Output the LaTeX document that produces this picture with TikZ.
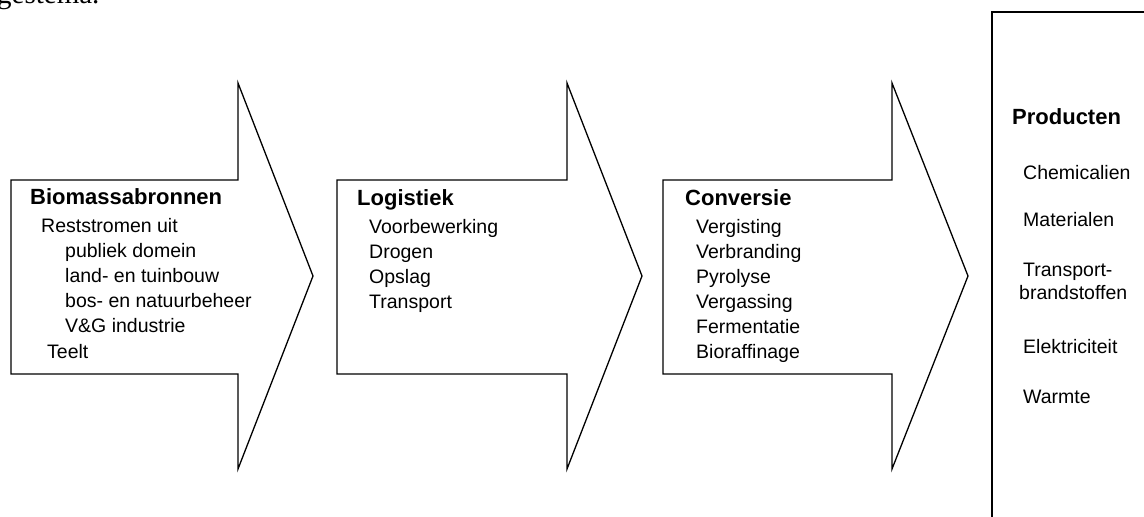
\documentclass[tikz,border=0pt]{standalone}
\usepackage{fontspec}
\setmainfont{Liberation Sans}
\newfontfamily\captionserif{Liberation Serif}
\begin{document}
\begin{tikzpicture}[x=1pt,y=-1pt,
  arrowshape/.style={draw=black, line width=1.3pt, fill=white, line join=miter},
  boxline/.style={draw=black, line width=1.3pt},
  titletext/.style={anchor=base west, inner sep=0pt, font=\fontsize{22}{26}\selectfont\bfseries},
  itemtext/.style={anchor=base west, inner sep=0pt, font=\fontsize{19.5}{23}\selectfont},
  captiontext/.style={anchor=base west, inner sep=0pt, font=\captionserif\fontsize{29}{33}\selectfont}]
\useasboundingbox (0,0) rectangle (1144,517);
\clip (0,0) rectangle (1144,517);
\fill[white] (0,0) rectangle (1144,517);

% partial caption line at the top
\node[captiontext] (cap) at (-3,3) {gestema.};

% arrow 1
\draw[arrowshape] (11,180) -- (238,180) -- (238,83) -- (313,276) -- (238,469) -- (238,374) -- (11,374) -- cycle;
\node[titletext] (t1) at (30,204) {Biomassabronnen};
\node[itemtext] (a1) at (41,232) {Reststromen uit};
\node[itemtext] (a2) at (65,257) {publiek domein};
\node[itemtext] (a3) at (65,282) {land- en tuinbouw};
\node[itemtext] (a4) at (65,307) {bos- en natuurbeheer};
\node[itemtext] (a5) at (65,332) {V\&G industrie};
\node[itemtext] (a6) at (47,358) {Teelt};

% arrow 2
\draw[arrowshape] (337,180) -- (567,180) -- (567,83) -- (642,276) -- (567,469) -- (567,374) -- (337,374) -- cycle;
\node[titletext] (t2) at (357,205) {Logistiek};
\node[itemtext] (b1) at (369,233) {Voorbewerking};
\node[itemtext] (b2) at (369,258) {Drogen};
\node[itemtext] (b3) at (369,283) {Opslag};
\node[itemtext] (b4) at (369,308) {Transport};

% arrow 3
\draw[arrowshape] (663,180) -- (892,180) -- (892,83) -- (968,276) -- (892,469) -- (892,374) -- (663,374) -- cycle;
\node[titletext] (t3) at (685,205) {Conversie};
\node[itemtext] (c1) at (696,233) {Vergisting};
\node[itemtext] (c2) at (696,258) {Verbranding};
\node[itemtext] (c3) at (696,283) {Pyrolyse};
\node[itemtext] (c4) at (696,308) {Vergassing};
\node[itemtext] (c5) at (696,333) {Fermentatie};
\node[itemtext] (c6) at (696,358) {Bioraffinage};

% products box
\draw[boxline] (992,530) -- (992,12) -- (1160,12);
\node[titletext] (t4) at (1012,124) {Producten};
\node[itemtext] (p1) at (1023,179) {Chemicalien};
\node[itemtext] (p2) at (1023,226) {Materialen};
\node[itemtext] (p3) at (1023,276) {Transport-};
\node[itemtext] (p3b) at (1019,299) {brandstoffen};
\node[itemtext] (p4) at (1023,353) {Elektriciteit};
\node[itemtext] (p5) at (1023,403) {Warmte};
\end{tikzpicture}
\end{document}
